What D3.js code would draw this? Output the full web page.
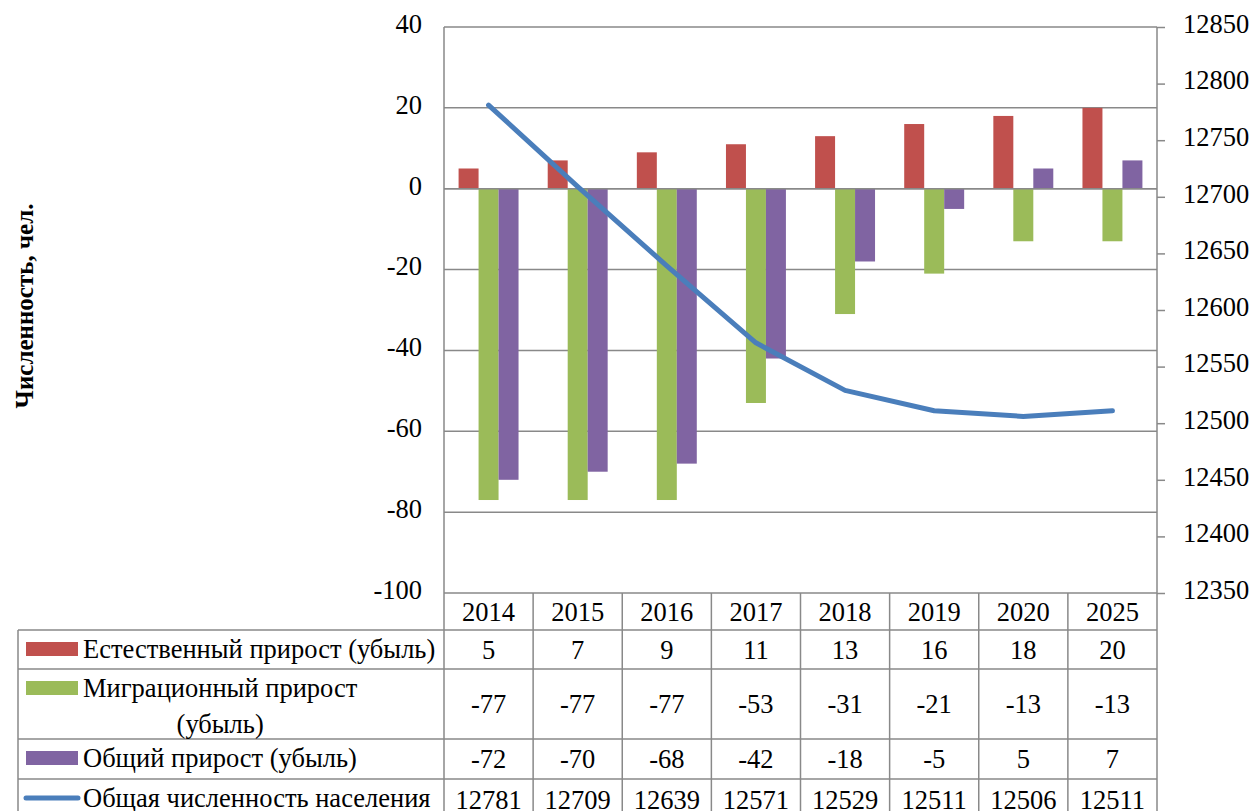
<!DOCTYPE html>
<html lang="ru">
<head>
<meta charset="UTF-8">
<title>Численность населения</title>
<script src="https://d3js.org/d3.v7.min.js"></script>
<style>
    body { margin: 0; background: #fff; }
    svg { display: block; }
    svg text { font-family: "Liberation Serif", "Times New Roman", serif; }
</style>
</head>
<body>
<svg id="chart" width="1252" height="811"></svg>
<script>
// data
const years = ["2014", "2015", "2016", "2017", "2018", "2019", "2020", "2025"]
const natural = [5, 7, 9, 11, 13, 16, 18, 20]
const migration = [-77, -77, -77, -53, -31, -21, -13, -13]
const total = [-72, -70, -68, -42, -18, -5, 5, 7]
const population = [12781, 12709, 12639, 12571, 12529, 12511, 12506, 12511]
const leftTicks = [-100, -80, -60, -40, -20, 0, 20, 40]
const rightTicks = [12350, 12400, 12450, 12500, 12550, 12600, 12650, 12700, 12750, 12800, 12850]

const barSeries = [
    { name: "Естественный прирост (убыль)", values: natural, color: "#C0504D" },
    { name: ["Миграционный прирост", "(убыль)"], values: migration, color: "#9BBB59" },
    { name: "Общий прирост (убыль)", values: total, color: "#8064A2" },
]
const lineColor = "#4A7EBB"
const gridColor = "#898989"
const fontFamily = "'Liberation Serif', 'Times New Roman', serif"
const fontSize = 26.5

// dimensions
const plot = { left: 444, right: 1157, top: 27, bottom: 593 }
const rows = [593, 630, 669, 739, 779, 820]
const tableLeft = 18

const svg = d3.select("#chart")

// scales
const x = d3.scaleBand().domain(years).range([plot.left, plot.right]).padding(0)
const xInner = d3.scaleBand().domain([0, 1, 2]).range([0, x.bandwidth()]).paddingInner(0).paddingOuter(0.73)
const yL = d3.scaleLinear().domain([-100, 40]).range([plot.bottom, plot.top])
const yR = d3.scaleLinear().domain([12350, 12850]).range([plot.bottom, plot.top])

// gridlines
svg.append("g")
    .selectAll("line")
    .data(leftTicks.filter(d => d !== -100))
    .join("line")
    .attr("x1", plot.left).attr("x2", plot.right)
    .attr("y1", d => yL(d)).attr("y2", d => yL(d))
    .attr("stroke", gridColor).attr("stroke-width", 1.5)

// bars
barSeries.forEach((s, si) => {
    svg.append("g")
        .selectAll("rect")
        .data(s.values)
        .join("rect")
        .attr("x", (d, i) => x(years[i]) + xInner(si))
        .attr("width", xInner.bandwidth())
        .attr("y", d => yL(Math.max(0, d)))
        .attr("height", d => Math.abs(yL(d) - yL(0)))
        .attr("fill", s.color)
})

// zero line on top of bars
svg.append("line")
    .attr("x1", plot.left).attr("x2", plot.right)
    .attr("y1", yL(0)).attr("y2", yL(0))
    .attr("stroke", gridColor).attr("stroke-width", 1.5)

// population line
const lineGen = d3.line()
    .x((d, i) => x(years[i]) + x.bandwidth() / 2)
    .y(d => yR(d))
svg.append("path")
    .attr("d", lineGen(population))
    .attr("fill", "none")
    .attr("stroke", lineColor)
    .attr("stroke-width", 5)
    .attr("stroke-linejoin", "round")
    .attr("stroke-linecap", "round")

// left axis
const yAxisL = svg.append("g")
    .attr("transform", `translate(${plot.left},0)`)
    .call(d3.axisLeft(yL).tickValues(leftTicks).tickSize(0).tickPadding(22).tickFormat(d => String(d)))
    .attr("font-family", fontFamily)
yAxisL.select(".domain").remove()
yAxisL.selectAll("text").attr("font-size", fontSize).attr("fill", "#000").attr("dy", "0.2em")

// right axis
const yAxisR = svg.append("g")
    .attr("transform", `translate(${plot.right},0)`)
    .call(d3.axisRight(yR).tickValues(rightTicks).tickSize(8).tickPadding(18).tickFormat(d3.format("d")))
    .attr("font-family", fontFamily)
yAxisR.select(".domain").remove()
yAxisR.selectAll("line").attr("stroke", gridColor).attr("stroke-width", 1.5)
yAxisR.selectAll("text").attr("font-size", fontSize).attr("fill", "#000").attr("dy", "0.2em")

// frame lines
svg.append("line").attr("x1", plot.left).attr("x2", plot.left).attr("y1", plot.top).attr("y2", 811)
    .attr("stroke", gridColor).attr("stroke-width", 1.5)
svg.append("line").attr("x1", plot.right).attr("x2", plot.right).attr("y1", plot.top).attr("y2", 811)
    .attr("stroke", gridColor).attr("stroke-width", 1.5)

// y title
svg.append("text")
    .attr("transform", "translate(33,306) rotate(-90)")
    .attr("text-anchor", "middle")
    .attr("font-family", fontFamily)
    .attr("font-size", 25)
    .attr("font-weight", "bold")
    .text("Численность, чел.")

// data table
const table = svg.append("g").attr("font-family", fontFamily)
table.append("line").attr("x1", plot.left).attr("x2", plot.right).attr("y1", rows[0]).attr("y2", rows[0])
    .attr("stroke", gridColor).attr("stroke-width", 1.5)
rows.slice(1, 5).forEach(r => {
    table.append("line").attr("x1", tableLeft).attr("x2", plot.right).attr("y1", r).attr("y2", r)
        .attr("stroke", gridColor).attr("stroke-width", 1.5)
})
table.append("line").attr("x1", tableLeft).attr("x2", tableLeft).attr("y1", rows[1]).attr("y2", 811)
    .attr("stroke", gridColor).attr("stroke-width", 1.5)
table.selectAll(".col")
    .data(years.slice(1))
    .join("line")
    .attr("x1", d => x(d)).attr("x2", d => x(d))
    .attr("y1", rows[0]).attr("y2", 811)
    .attr("stroke", gridColor).attr("stroke-width", 1.5)

const cellText = (sel) => sel.attr("font-size", fontSize).attr("text-anchor", "middle").attr("fill", "#000")

table.selectAll(".yr")
    .data(years)
    .join("text")
    .call(cellText)
    .attr("x", d => x(d) + x.bandwidth() / 2)
    .attr("y", (rows[0] + rows[1]) / 2)
    .attr("dy", "0.35em")
    .text(d => d)

const allRows = [...barSeries, { name: "Общая численность населения", values: population, color: lineColor, line: true }]
allRows.forEach((s, ri) => {
    const top = rows[ri + 1], bottom = rows[ri + 2]
    const mid = (top + bottom) / 2
    table.append("g")
        .selectAll("text")
        .data(s.values)
        .join("text")
        .call(cellText)
        .attr("x", (d, i) => x(years[i]) + x.bandwidth() / 2)
        .attr("y", mid)
        .attr("dy", "0.35em")
        .text(d => d)

    const keyY = top + 19
    if (s.line) {
        table.append("line").attr("x1", 26).attr("x2", 78).attr("y1", keyY).attr("y2", keyY)
            .attr("stroke", s.color).attr("stroke-width", 5).attr("stroke-linecap", "round")
    } else {
        table.append("rect").attr("x", 26).attr("y", keyY - 7).attr("width", 52).attr("height", 14)
            .attr("fill", s.color)
    }
    const names = Array.isArray(s.name) ? s.name : [s.name]
    const t1 = table.append("text").attr("x", 83).attr("y", keyY).attr("dy", "0.35em")
        .attr("font-size", fontSize).attr("fill", "#000").text(names[0])
    if (names.length > 1) {
        const w = t1.node().getComputedTextLength()
        table.append("text").attr("x", 83 + w / 2).attr("y", keyY + 36).attr("dy", "0.35em")
            .attr("text-anchor", "middle").attr("font-size", fontSize).attr("fill", "#000").text(names[1])
    }
})
</script>
</body>
</html>
